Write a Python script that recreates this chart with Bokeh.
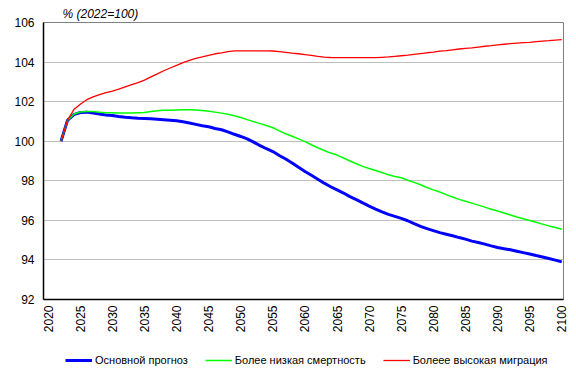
from bokeh.plotting import figure
from bokeh.models import Legend, LegendItem, FixedTicker, ColumnDataSource
from bokeh.layouts import column
from bokeh.embed import file_html
from bokeh.resources import INLINE
import math

years = list(range(2022, 2101))

base = [100.00, 101.05, 101.34, 101.45, 101.47, 101.43, 101.38, 101.33, 101.30, 101.25,
        101.21, 101.18, 101.16, 101.15, 101.13, 101.11, 101.09, 101.06, 101.03, 100.98,
        100.92, 100.85, 100.78, 100.73, 100.64, 100.58, 100.47, 100.35, 100.24, 100.12,
        99.95, 99.78, 99.62, 99.48, 99.28, 99.10, 98.90, 98.68, 98.47, 98.28,
        98.08, 97.88, 97.70, 97.54, 97.38, 97.20, 97.05, 96.88, 96.72, 96.57,
        96.43, 96.30, 96.20, 96.10, 95.98, 95.83, 95.70, 95.58, 95.48, 95.38,
        95.30, 95.22, 95.13, 95.05, 94.95, 94.88, 94.80, 94.71, 94.63, 94.57,
        94.51, 94.44, 94.37, 94.30, 94.22, 94.15, 94.07, 93.99, 93.90]

low_mortality = [100.00, 101.05, 101.36, 101.48, 101.50, 101.50, 101.47, 101.44, 101.44, 101.43,
                 101.43, 101.43, 101.44, 101.45, 101.50, 101.54, 101.56, 101.57, 101.58, 101.59,
                 101.59, 101.58, 101.55, 101.52, 101.47, 101.42, 101.36, 101.29, 101.20, 101.09,
                 100.99, 100.89, 100.79, 100.68, 100.52, 100.38, 100.25, 100.12, 99.98, 99.82,
                 99.67, 99.53, 99.40, 99.30, 99.15, 99.00, 98.86, 98.73, 98.62, 98.52,
                 98.42, 98.30, 98.22, 98.15, 98.03, 97.92, 97.80, 97.66, 97.54, 97.43,
                 97.30, 97.18, 97.06, 96.97, 96.87, 96.77, 96.67, 96.56, 96.47, 96.37,
                 96.27, 96.17, 96.08, 95.99, 95.90, 95.81, 95.72, 95.64, 95.55]

high_migration = [100.00, 101.05, 101.60, 101.87, 102.10, 102.24, 102.36, 102.45, 102.53, 102.63,
                  102.75, 102.86, 102.96, 103.09, 103.25, 103.40, 103.56, 103.70, 103.83, 103.97,
                  104.08, 104.19, 104.26, 104.34, 104.42, 104.47, 104.53, 104.57, 104.57, 104.57,
                  104.57, 104.57, 104.57, 104.56, 104.53, 104.49, 104.45, 104.42, 104.38, 104.34,
                  104.29, 104.25, 104.23, 104.22, 104.22, 104.22, 104.22, 104.22, 104.22, 104.22,
                  104.24, 104.26, 104.29, 104.32, 104.35, 104.39, 104.43, 104.47, 104.50, 104.55,
                  104.58, 104.62, 104.66, 104.69, 104.72, 104.76, 104.80, 104.83, 104.87, 104.90,
                  104.93, 104.96, 104.98, 105.00, 105.03, 105.06, 105.08, 105.11, 105.13]

x_ticks = list(range(2020, 2101, 5))
y_ticks = list(range(92, 107, 2))
series_names = ["Основной прогноз", "Более низкая смертность", "Болеее высокая миграция"]
series_colors = ["#0000FF", "#00FF00", "#FF0000"]
series_widths = [3, 1.5, 1.3]
title_text = "% (2022=100)"

FONT = "Liberation Sans"

p = figure(width=576, height=342, output_backend="svg", toolbar_location=None,
           x_range=(2019.27, 2100.27), y_range=(92, 106),
           min_border_left=43, min_border_right=13, min_border_top=22, min_border_bottom=43)

p.title.text = title_text
p.title.text_font = FONT
p.title.text_font_size = "12px"
p.title.text_font_style = "italic"
p.title.text_color = "black"
p.title.align = "left"
p.title.offset = 19
p.title.standoff = 3

p.background_fill_color = "white"
p.border_fill_color = "white"
p.outline_line_color = "#808080"
p.outline_line_width = 1

p.xgrid.visible = False
p.ygrid.grid_line_color = "#BFBFBF"
p.ygrid.grid_line_width = 1

p.xaxis.ticker = FixedTicker(ticks=x_ticks)
p.yaxis.ticker = FixedTicker(ticks=y_ticks)
for ax in (p.xaxis, p.yaxis):
    ax.axis_line_color = "black"
    ax.axis_line_width = 1.5
    ax.major_tick_out = 0
    ax.major_tick_in = 0
    ax.minor_tick_out = 0
    ax.minor_tick_in = 0
    ax.major_label_text_font = FONT
    ax.major_label_text_font_size = "12px"
    ax.major_label_text_color = "black"
p.yaxis.major_label_standoff = 9
p.xaxis.major_label_standoff = 6
p.xaxis.major_label_orientation = math.pi / 2

src = ColumnDataSource(dict(year=years, base=base, low=low_mortality, high=high_migration))
r1 = p.line("year", "base", source=src, line_color=series_colors[0], line_width=series_widths[0])
r2 = p.line("year", "low", source=src, line_color=series_colors[1], line_width=series_widths[1])
r3 = p.line("year", "high", source=src, line_color=series_colors[2], line_width=series_widths[2])

# legend strip below the chart (its lines share the chart's data, outside this strip's view)
lg = figure(width=576, height=32, output_backend="svg", toolbar_location=None,
            x_range=(0, 1), y_range=(0, 1), x_axis_location=None, y_axis_location=None,
            min_border_left=0, min_border_right=0, min_border_top=0, min_border_bottom=0)
lg.grid.visible = False
lg.outline_line_color = None
lg.background_fill_color = "white"
lg.border_fill_color = "white"
lg_renderers = [lg.line("year", col, source=src, line_color=c, line_width=w)
                for col, c, w in zip(["base", "low", "high"], series_colors, series_widths)]

legend = Legend(items=[LegendItem(label=n, renderers=[r]) for n, r in zip(series_names, lg_renderers)],
                orientation="horizontal", location=(22, 7),
                label_text_font=FONT, label_text_font_size="11px", label_text_color="black",
                glyph_width=27, glyph_height=14, label_standoff=3, spacing=17,
                padding=0, margin=0, border_line_color=None, background_fill_color=None)
lg.add_layout(legend)

open("out.html", "w").write(file_html(column(p, lg, spacing=0), INLINE))
